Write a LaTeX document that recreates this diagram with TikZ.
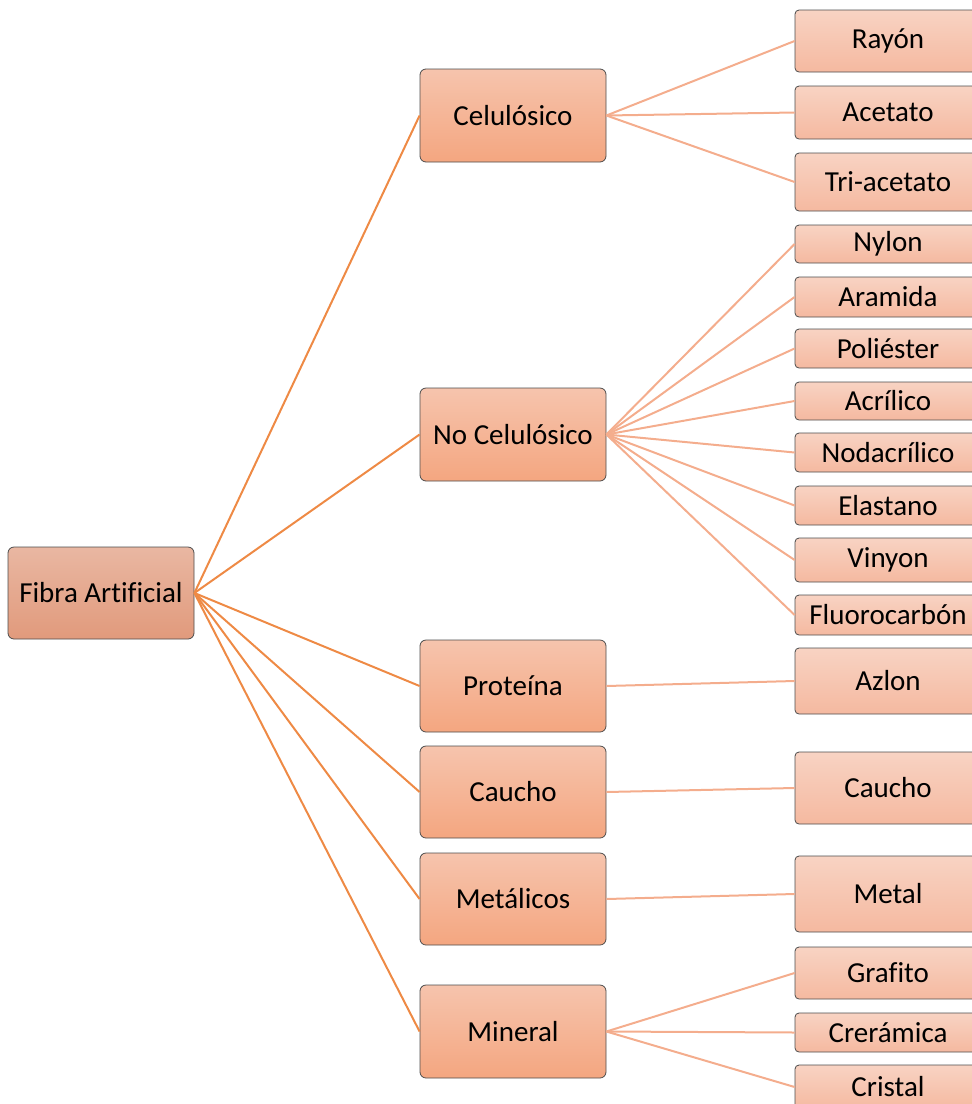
\documentclass[tikz,border=0pt]{standalone}
\usepackage{fontspec}
\setmainfont{Carlito}[Ligatures=NoCommon]
\begin{document}
\begin{tikzpicture}[x=1pt,y=-1pt,
  box/.style={draw=black!70, line width=0.8pt, rounded corners=6pt, minimum width=186pt,
    inner sep=0pt, font=\fontsize{29}{34}\selectfont, text=black},
  rootbox/.style={box, top color=rootTop, bottom color=rootBot},
  midbox/.style={box, top color=midTop, bottom color=midBot},
  leafbox/.style={box, rounded corners=4pt, top color=leafTop, bottom color=leafBot},
  trunk/.style={draw=trunkC, line width=2pt},
  twig/.style={draw=twigC, line width=2pt}]
\definecolor{rootTop}{HTML}{E9B7A2}
\definecolor{rootBot}{HTML}{E19A7C}
\definecolor{midTop}{HTML}{F6C4AD}
\definecolor{midBot}{HTML}{F4A680}
\definecolor{leafTop}{HTML}{F8D3C3}
\definecolor{leafBot}{HTML}{F5B9A0}
\definecolor{trunkC}{HTML}{EE8A45}
\definecolor{twigC}{HTML}{F4AD8D}
\useasboundingbox (0,0) rectangle (972,1104);
\clip (0,0) rectangle (972,1104);

% root
\node[rootbox, minimum height=92pt] (root) at (101,593) {Fibra Artificial};

% second level
\node[midbox, minimum height=93pt] (cel) at (513,115.5) {Celulósico};
\node[midbox, minimum height=93pt] (nocel) at (513,434.5) {No Celulósico};
\node[midbox, minimum height=92pt] (prot) at (513,686) {Proteína};
\node[midbox, minimum height=92pt] (cau) at (513,792) {Caucho};
\node[midbox, minimum height=92pt] (met) at (513,899) {Metálicos};
\node[midbox, minimum height=93pt] (min) at (513,1031.5) {Mineral};

% leaves
\node[leafbox, minimum height=62pt] (ray) at (888,41) {Rayón};
\node[leafbox, minimum height=53pt] (ace) at (888,112.5) {Acetato};
\node[leafbox, minimum height=58pt] (tri) at (888,182) {Tri-acetato};
\node[leafbox, minimum height=38pt] (nyl) at (888,244) {Nylon};
\node[leafbox, minimum height=40pt] (ara) at (888,297) {Aramida};
\node[leafbox, minimum height=39pt] (pol) at (888,348.5) {Poliéster};
\node[leafbox, minimum height=38pt] (acr) at (888,401) {Acrílico};
\node[leafbox, minimum height=39pt] (nod) at (888,452.5) {Nodacrílico};
\node[leafbox, minimum height=39pt] (ela) at (888,505.5) {Elastano};
\node[leafbox, minimum height=44pt] (vin) at (888,560) {Vinyon};
\node[leafbox, minimum height=40pt] (flu) at (888,615) {Fluorocarbón};
\node[leafbox, minimum height=66pt] (azl) at (888,681) {Azlon};
\node[leafbox, minimum height=72pt] (cauL) at (888,788) {Caucho};
\node[leafbox, minimum height=76pt] (metL) at (888,894) {Metal};
\node[leafbox, minimum height=52pt] (gra) at (888,973) {Grafito};
\node[leafbox, minimum height=39pt] (cer) at (888,1032.5) {Crerámica};
\node[leafbox, minimum height=44pt] (cri) at (888,1087) {Cristal};

% trunk connectors
\foreach \n in {cel,nocel,prot,cau,met,min}
  \draw[trunk] (root.east) -- (\n.west);

% branch connectors
\foreach \n in {ray,ace,tri}
  \draw[twig] (cel.east) -- (\n.west);
\foreach \n in {nyl,ara,pol,acr,nod,ela,vin,flu}
  \draw[twig] (nocel.east) -- (\n.west);
\draw[twig] (prot.east) -- (azl.west);
\draw[twig] (cau.east) -- (cauL.west);
\draw[twig] (met.east) -- (metL.west);
\foreach \n in {gra,cer,cri}
  \draw[twig] (min.east) -- (\n.west);
\end{tikzpicture}
\end{document}
